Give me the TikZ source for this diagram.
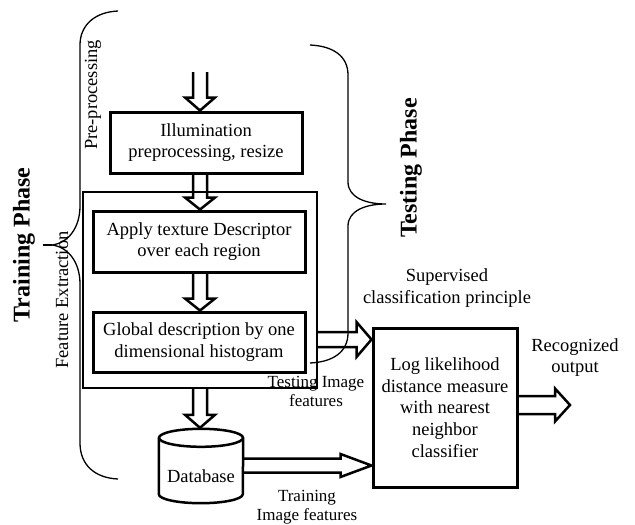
\documentclass[tikz,border=0pt]{standalone}
\usepackage{fontspec}
\setmainfont{Liberation Serif}
\usetikzlibrary{calc}
\tikzset{
  body/.style={font=\fontsize{18.5}{21.7}\selectfont, align=center, inner sep=0pt},
  small/.style={font=\fontsize{17}{19}\selectfont, align=center, inner sep=0pt},
  phase/.style={font=\fontsize{24}{26}\selectfont\bfseries, inner sep=0pt, rotate=90},
  sidelabel/.style={font=\fontsize{18.5}{21.7}\selectfont, inner sep=0pt, rotate=90},
  procbox/.style={body, draw, line width=3pt, minimum width=#1},
  arrowline/.style={draw, line width=2.5pt, line join=miter},
  bracel/.style={draw, line width=1.3pt},
}
\newcommand\hollowarrow[5]{%
  \coordinate (ha) at (#1);
  \coordinate (hb) at (#2);
  \coordinate (hh) at ($(hb)!#5pt!(ha)$);
  \draw[arrowline] ($(ha)!#3pt!90:(hb)$) -- ($(hh)!#3pt!90:(hb)$) -- ($(hh)!#4pt!90:(hb)$)
    -- (hb) -- ($(hh)!#4pt!-90:(hb)$) -- ($(hh)!#3pt!-90:(hb)$) -- ($(ha)!#3pt!-90:(hb)$);
}
\begin{document}
\begin{tikzpicture}[x=1pt,y=-1pt]
\useasboundingbox (0,0) rectangle (635,525);

% outer feature extraction box
\node[draw, line width=2pt, minimum width=234pt, minimum height=196pt, inner sep=0pt] (outer) at (200,290) {};

% process boxes
\node[procbox=192pt, minimum height=61pt] (b1) at (206,142.5) {Illumination\\preprocessing, resize};
\node[procbox=212pt, minimum height=61pt] (b2) at (199,241.5) {Apply texture Descriptor\\over each region};
\node[procbox=212pt, minimum height=60pt] (b3) at (199,342) {Global description by one\\dimensional histogram};
\node[procbox=144pt, minimum height=159pt] (cls) at (445,407.5) {Log likelihood\\distance measure\\with nearest\\neighbor\\classifier};

% database cylinder
\node[body, minimum width=84pt, minimum height=75pt] (db) at (201,465.5) {};
\node[body] (dbt) at (201,476) {Database};
\draw[line width=2.5pt] ($(db.north west)+(0,10)$) -- ($(db.south west)+(0,-9)$)
  arc[start angle=180, end angle=360, x radius=42pt, y radius=9pt]
  -- ($(db.north east)+(0,10)$);
\draw[line width=2.5pt] ($(db.north)+(0,10)$) ellipse[x radius=42pt, y radius=9pt];

% input coordinates
\coordinate (in) at (200,72);
\coordinate (out) at (570,405);

% vertical arrows
\hollowarrow{in}{$(b1.north)+(-6,0)$}{7}{15}{13}
\hollowarrow{outer.north |- b1.south}{outer.north |- b2.north}{7}{15}{12}
\hollowarrow{outer.north |- b2.south}{outer.north |- b3.north}{7}{15}{12}
\hollowarrow{outer.south}{outer.south |- db.north}{7}{15}{13}

% horizontal arrows
\coordinate (ts) at ($(outer.east)+(0,49.5)$);
\hollowarrow{ts}{cls.west |- ts}{7.5}{17.5}{15}
\hollowarrow{db.east}{cls.west |- db.east}{7}{11.5}{31}
\hollowarrow{cls.east |- out}{out}{9}{16.5}{15}

% labels
\node[body] (sup) at (447,288) {Supervised\\classification principle};
\node[body] (rec) at (575,357.5) {Recognized\\output};
\node[small] (tif) at (316,391) {Testing Image\\features};
\node[small] (trf) at (307,507.5) {Training\\Image features};
\node[sidelabel] (pre) at (93,95) {Pre-processing};
\node[sidelabel] (fe) at (62,300) {Feature Extraction};
\node[phase] (trp) at (24,245) {Training Phase};
\node[phase] (tsp) at (411,168) {Testing Phase};

% training brace
\draw[bracel] (118,11) .. controls (95,12) and (80,25) .. (80,45) -- (80,206)
  .. controls (80,228) and (68,243) .. (52,245)
  .. controls (68,247) and (80,262) .. (80,284) -- (80,443)
  .. controls (80,465) and (95,478) .. (118,479);
\draw[bracel] (52,245) -- (43,245);

% testing brace
\draw[bracel] (310,45) .. controls (333,46) and (348,56) .. (348,75) -- (348,182)
  .. controls (348,197) and (365,204) .. (386,204)
  .. controls (365,204) and (348,211) .. (348,226) -- (348,333)
  .. controls (348,352) and (333,362) .. (310,363);
\end{tikzpicture}
\end{document}
